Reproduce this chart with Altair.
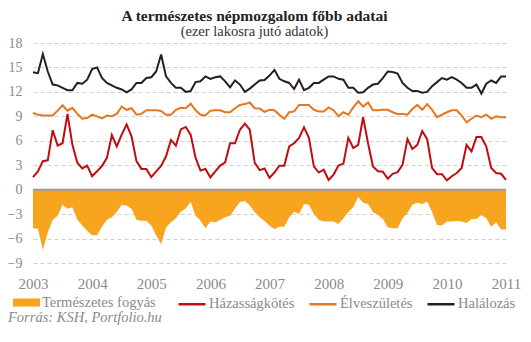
import altair as alt
import pandas as pd

SERIES = ["Természetes fogyás", "Házasságkötés", "Élveszületés", "Halálozás"]
COLORS = ["#F7A51F", "#C00D10", "#E8761C", "#2A1D22"]
YEAR_TICKS = [0, 12, 24, 36, 48, 60, 72, 84, 96]
Y_TICKS = [-9, -6, -3, 0, 3, 6, 9, 12, 15, 18]
TITLE = "A természetes népmozgalom főbb adatai"
SUBTITLE = "(ezer lakosra jutó adatok)"
SOURCE = "Forrás: KSH, Portfolio.hu"

# monthly data, 2003 Jan .. 2011 Jan (index 0..96)
month = list(range(97))

deaths = [14.4, 14.3, 16.65, 14.5, 12.9, 12.8, 12.5, 12.2, 12.2, 13.1, 13.0, 13.5, 14.8, 15.0, 13.7, 13.1, 12.8,
          12.5, 12.3, 11.95, 12.3, 13.1, 13.1, 13.7, 13.8, 14.5, 16.6, 13.9, 13.1, 12.5, 12.5, 12.0, 12.1,
          13.2, 13.3, 13.9, 13.6, 13.8, 13.9, 13.3, 12.55, 13.4, 12.9, 12.0, 12.4, 12.9, 13.4, 13.45,
          14.0, 14.7, 13.6, 13.3, 13.1, 12.35, 13.5, 12.2, 12.5, 13.1, 13.1, 13.5, 13.9, 13.9, 13.6, 13.5,
          12.5, 12.5, 11.9, 11.95, 12.5, 12.9, 13.0, 13.7, 14.5, 14.45, 14.25, 13.1, 12.5, 12.1, 12.1, 11.9,
          12.0, 12.7, 13.2, 13.7, 13.5, 13.8, 13.5, 13.1, 12.5, 12.5, 12.9, 11.8, 13.0, 13.4, 13.1, 13.9, 13.9]

births = [9.4, 9.2, 9.1, 9.1, 9.1, 9.7, 10.35, 9.7, 10.05, 9.3, 8.7, 8.8, 9.2, 9.0, 8.75, 9.1, 9.0,
          9.3, 10.2, 9.8, 10.0, 9.2, 9.3, 9.75, 9.75, 9.75, 9.65, 9.2, 9.2, 9.8, 10.05, 10.0, 10.55,
          9.75, 9.2, 9.1, 9.7, 9.75, 9.75, 9.5, 9.5, 10.0, 10.4, 10.5, 10.7, 10.0, 9.95, 9.55,
          9.8, 9.75, 9.2, 8.7, 9.5, 9.6, 10.4, 10.4, 10.4, 9.8, 9.6, 9.6, 10.1, 9.75, 9.0, 9.5,
          9.2, 10.1, 10.85, 10.2, 10.7, 9.75, 9.75, 9.8, 9.8, 9.5, 9.3, 9.3, 9.2, 9.9, 10.4, 9.8,
          10.5, 9.8, 8.9, 9.2, 9.5, 9.75, 9.75, 9.1, 8.25, 8.7, 9.1, 8.9, 9.2, 8.7, 9.0, 8.9, 8.9]

marriages = [1.55, 2.25, 3.5, 3.6, 7.3, 5.4, 5.7, 9.3, 5.5, 3.3, 2.6, 2.95, 1.65, 2.25, 2.9, 3.9, 6.7,
             5.3, 6.75, 8.0, 6.55, 3.5, 2.55, 2.55, 1.55, 2.25, 2.9, 4.1, 6.1, 5.4, 7.4, 7.7, 6.75,
             3.9, 2.35, 2.55, 1.5, 2.25, 2.95, 3.35, 5.7, 5.7, 7.35, 8.1, 7.35, 3.3, 2.4, 2.6,
             1.45, 2.1, 2.95, 2.95, 5.3, 5.7, 6.35, 7.65, 6.35, 2.85, 2.1, 2.45, 1.2, 1.85, 2.95, 3.2,
             6.35, 5.1, 5.5, 8.9, 5.7, 2.85, 2.25, 2.2, 1.35, 1.95, 2.15, 3.05, 6.2, 5.0, 5.5, 7.2,
             6.2, 2.65, 1.9, 1.9, 1.15, 1.65, 2.05, 2.65, 5.5, 4.7, 6.45, 6.45, 5.3, 2.65, 2.05, 1.95, 1.2]

natural = [-4.75, -4.8, -7.4, -5.25, -3.7, -3.2, -1.85, -2.35, -2.15, -3.7, -4.4, -5.05, -5.6, -5.6, -4.55, -3.7, -3.4,
           -2.75, -1.85, -1.95, -2.35, -3.7, -3.8, -3.8, -4.4, -5.6, -6.7, -4.65, -4.0, -3.5, -2.7, -2.3, -1.5,
           -3.2, -3.8, -4.75, -3.9, -4.0, -3.7, -3.4, -3.2, -2.3, -1.5, -1.4, -1.95, -2.75, -3.4, -3.85,
           -4.4, -4.85, -4.55, -4.55, -3.4, -2.7, -3.0, -1.75, -1.85, -3.0, -3.7, -3.9, -3.9, -3.9, -4.2, -3.5,
           -2.75, -2.15, -0.9, -1.6, -1.75, -2.75, -3.1, -3.6, -4.6, -4.75, -4.75, -3.5, -2.85, -1.85, -1.6, -1.75,
           -1.45, -2.75, -4.35, -4.4, -3.9, -3.9, -3.85, -3.9, -4.1, -3.6, -3.6, -3.1, -3.5, -4.55, -4.0, -4.9, -4.9]

area_df = pd.DataFrame({"t": month, "v": natural, "series": SERIES[0]})
lines_df = pd.concat([
    pd.DataFrame({"t": month, "v": marriages, "series": SERIES[1]}),
    pd.DataFrame({"t": month, "v": births, "series": SERIES[2]}),
    pd.DataFrame({"t": month, "v": deaths, "series": SERIES[3]}),
], ignore_index=True)
zero_df = pd.DataFrame({"v": [0]})

SERIF = "Liberation Serif"
GRAY = "#8a8a8a"

x_enc = alt.X("t:Q", scale=alt.Scale(domain=[0, 96], nice=False, zero=False),
              axis=alt.Axis(values=YEAR_TICKS, labelExpr="2003 + datum.value / 12", title=None,
                            grid=False, ticks=False, domain=False, labelFont=SERIF, labelFontSize=15,
                            labelColor=GRAY, labelPadding=13, labelFlush=False, labelOverlap=False))
y_enc = alt.Y("v:Q", scale=alt.Scale(domain=[-9, 18], nice=False),
              axis=alt.Axis(values=Y_TICKS, title=None, grid=True, gridDash=[4, 3], gridColor="#d0d0d0",
                            gridWidth=1, ticks=False, domain=False, labelFont=SERIF, labelFontSize=14,
                            labelColor=GRAY, labelPadding=11, labelOverlap=False))

LEG_COMMON = dict(title=None, orient="none", direction="horizontal", symbolSize=729,
                  labelFont=SERIF, labelFontSize=14.5, labelColor=GRAY, labelOffset=2,
                  columnPadding=9, symbolOpacity=1)

area = alt.Chart(area_df).mark_area(opacity=1).encode(
    x=x_enc, y=y_enc,
    fill=alt.Fill("series:N", scale=alt.Scale(domain=SERIES[:1], range=COLORS[:1]),
                  legend=alt.Legend(legendX=-20, legendY=246, symbolType="M-1,-0.3H1V0.3H-1Z",
                                    symbolStrokeWidth=0, **LEG_COMMON)))

zero = alt.Chart(zero_df).mark_rule(color="#9c9c9c", strokeWidth=2).encode(y=y_enc)

lines = alt.Chart(lines_df).mark_line(strokeWidth=2).encode(
    x=x_enc, y=y_enc,
    stroke=alt.Stroke("series:N", scale=alt.Scale(domain=SERIES[1:], range=COLORS[1:]), sort=SERIES[1:],
                      legend=alt.Legend(legendX=144, legendY=246, symbolType="stroke",
                                        symbolStrokeWidth=2.5, **LEG_COMMON)),
    detail="series:N")

source = alt.Chart(pd.DataFrame({"s": [SOURCE]})).mark_text(
    align="left", baseline="middle", font=SERIF, fontStyle="italic", fontSize=14.5, color=GRAY).encode(
    x=alt.value(-25), y=alt.value(275), text="s:N")

chart = alt.layer(area, zero, lines, source).properties(
    width=473, height=220,
    title=alt.TitleParams(text=TITLE, subtitle=SUBTITLE, font=SERIF, fontSize=15.5, fontWeight="bold",
                          color="#222222", subtitleFont=SERIF, subtitleFontSize=14.5, subtitleColor="#333333",
                          anchor="middle", dx=-15, offset=-2, subtitlePadding=0),
    padding={"left": 33, "top": 43, "right": 25, "bottom": 79},
    autosize=alt.AutoSizeParams(type="none"),
).resolve_scale(fill="independent", stroke="independent").configure_view(stroke=None)

chart.save("out.html", embed_options={"renderer": "svg", "actions": False})
